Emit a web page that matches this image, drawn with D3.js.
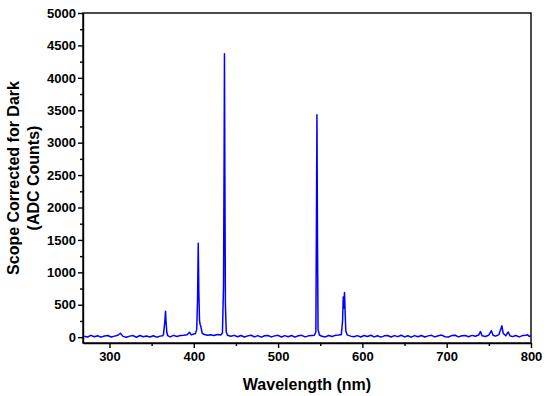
<!DOCTYPE html>
<html lang="en">
<head>
<meta charset="UTF-8">
<title>Spectrum</title>
<script src="https://cdn.jsdelivr.net/npm/d3@7/dist/d3.min.js"></script>
<style>
  body { margin: 0; background: #fff; }
  svg { display: block; }
  .tick text { font: bold 13px "Liberation Sans", Arial, sans-serif; fill: #000; }
  .axis-title { font: bold 16px "Liberation Sans", Arial, sans-serif; fill: #000; }
  .domain, .tick line { stroke: #000; stroke-width: 1.4px; }
</style>
</head>
<body>
<div id="chart"></div>
<script>
// spectrum (nm, ADC counts)
const wavelengths = [
  270, 274, 278, 282, 286, 290, 294, 298, 302, 306, 310, 313, 316, 320, 324, 328, 332, 336, 340, 344,
  348, 352, 356, 360, 363, 364, 365, 366, 366.5, 367, 368, 369, 372, 376, 380, 384, 388, 392, 395, 397,
  400, 402, 403.5, 404.5, 405.3, 406, 406.8, 407.5, 408.5, 410, 412, 416, 420, 424, 428, 432, 434, 435.3, 436, 436.4,
  436.9, 437.5, 438.5, 440, 444, 448, 452, 456, 460, 464, 468, 472, 476, 480, 484, 488, 492, 496, 500, 504,
  508, 512, 516, 520, 524, 528, 532, 536, 540, 543, 544.8, 545.5, 546.1, 546.7, 547.4, 549, 552, 556, 560, 564,
  568, 572, 575, 576.5, 577.3, 578, 578.8, 579.5, 580.3, 582, 586, 590, 594, 598, 602, 606, 610, 614, 618, 622,
  626, 630, 634, 638, 642, 646, 650, 654, 658, 662, 666, 670, 674, 678, 682, 686, 690, 694, 698, 702,
  706, 710, 714, 718, 722, 726, 730, 734, 738, 740, 742, 746, 750, 753, 755, 758, 762, 764, 765.5, 767,
  770, 773, 775, 778, 782, 786, 790, 794, 796, 798, 800
];
const counts = [
  15, 2, 28, 6, 22, 0, 18, 26, 2, 16, 30, 60, 12, 0, 16, 24, -2, 26, 6, 18,
  2, 22, 0, 16, 20, 40, 150, 300, 400, 260, 80, 25, 4, 28, 10, 26, 30, 36, 75, 35,
  48, 55, 120, 600, 1450, 700, 260, 200, 160, 60, 45, 30, 38, 25, 40, 35, 60, 800, 2800, 4370,
  2500, 500, 80, 30, 14, 28, 6, 26, 2, 20, 30, 4, 24, 0, 22, 26, 4, 20, 28, 2,
  24, 6, 26, 0, 22, 28, 4, 20, 26, 30, 80, 1780, 3430, 1600, 120, 34, 14, 4, 26, 10,
  28, 32, 40, 250, 620, 450, 690, 400, 100, 35, 16, 6, 24, 2, 26, 10, 30, 4, 22, 0,
  20, 26, 2, 24, 8, 30, 4, 22, 0, 24, 6, 26, 2, 20, 28, 4, 22, 32, 6, 2,
  24, 30, 4, 22, 26, 6, 28, 14, 34, 85, 22, 10, 32, 100, 30, 16, 40, 120, 175, 60,
  22, 80, 22, 8, 26, 4, 24, 30, 36, 12, 20
];
const xTicks = [300, 400, 500, 600, 700, 800];
const yTicks = [0, 500, 1000, 1500, 2000, 2500, 3000, 3500, 4000, 4500, 5000];

const width = 550, height = 396;
const margin = { top: 13, right: 19, bottom: 53, left: 83 };
const innerW = width - margin.left - margin.right;
const innerH = height - margin.top - margin.bottom;

const svg = d3.select("#chart").append("svg")
  .attr("width", width)
  .attr("height", height);

const g = svg.append("g")
  .attr("transform", `translate(${margin.left},${margin.top})`);

const x = d3.scaleLinear().domain([268.6, 800]).range([0, innerW]);
const y = d3.scaleLinear().domain([-90, 5000]).range([innerH, 0]);

const data = wavelengths.map((w, i) => ({ w: w, c: counts[i] }));

// minor ticks first
g.append("g")
  .attr("transform", `translate(0,${innerH})`)
  .call(d3.axisBottom(x).tickValues(d3.range(350, 800, 100)).tickSize(3).tickFormat(""))
  .call(a => a.select(".domain").remove());
g.append("g")
  .call(d3.axisLeft(y).tickValues(d3.range(250, 5000, 500)).tickSize(3).tickFormat(""))
  .call(a => a.select(".domain").remove());

g.append("g")
  .attr("transform", `translate(0,${innerH})`)
  .call(d3.axisBottom(x).tickValues(xTicks).tickFormat(d3.format("d")).tickSize(5).tickPadding(4).tickSizeOuter(0));
g.append("g")
  .call(d3.axisLeft(y).tickValues(yTicks).tickFormat(d3.format("d")).tickSize(5).tickPadding(2).tickSizeOuter(0));

// frame on top and right
g.append("rect")
  .attr("width", innerW)
  .attr("height", innerH)
  .attr("fill", "none")
  .attr("stroke", "#000")
  .attr("stroke-width", 1.4);

const line = d3.line()
  .x(d => x(d.w))
  .y(d => y(d.c));

g.append("path")
  .datum(data)
  .attr("fill", "none")
  .attr("stroke", "#0000ff")
  .attr("stroke-width", 1.5)
  .attr("stroke-linejoin", "round")
  .attr("d", line);

svg.append("text")
  .attr("class", "axis-title")
  .attr("x", margin.left + innerW / 2)
  .attr("y", 390)
  .attr("text-anchor", "middle")
  .text("Wavelength (nm)");

const yl = svg.append("text")
  .attr("class", "axis-title")
  .attr("transform", `translate(0,${margin.top + innerH / 2}) rotate(-90)`)
  .attr("text-anchor", "middle");
yl.append("tspan").attr("x", 0).attr("y", 19).text("Scope Corrected for Dark");
yl.append("tspan").attr("x", 0).attr("y", 39).text("(ADC Counts)");
</script>
</body>
</html>
